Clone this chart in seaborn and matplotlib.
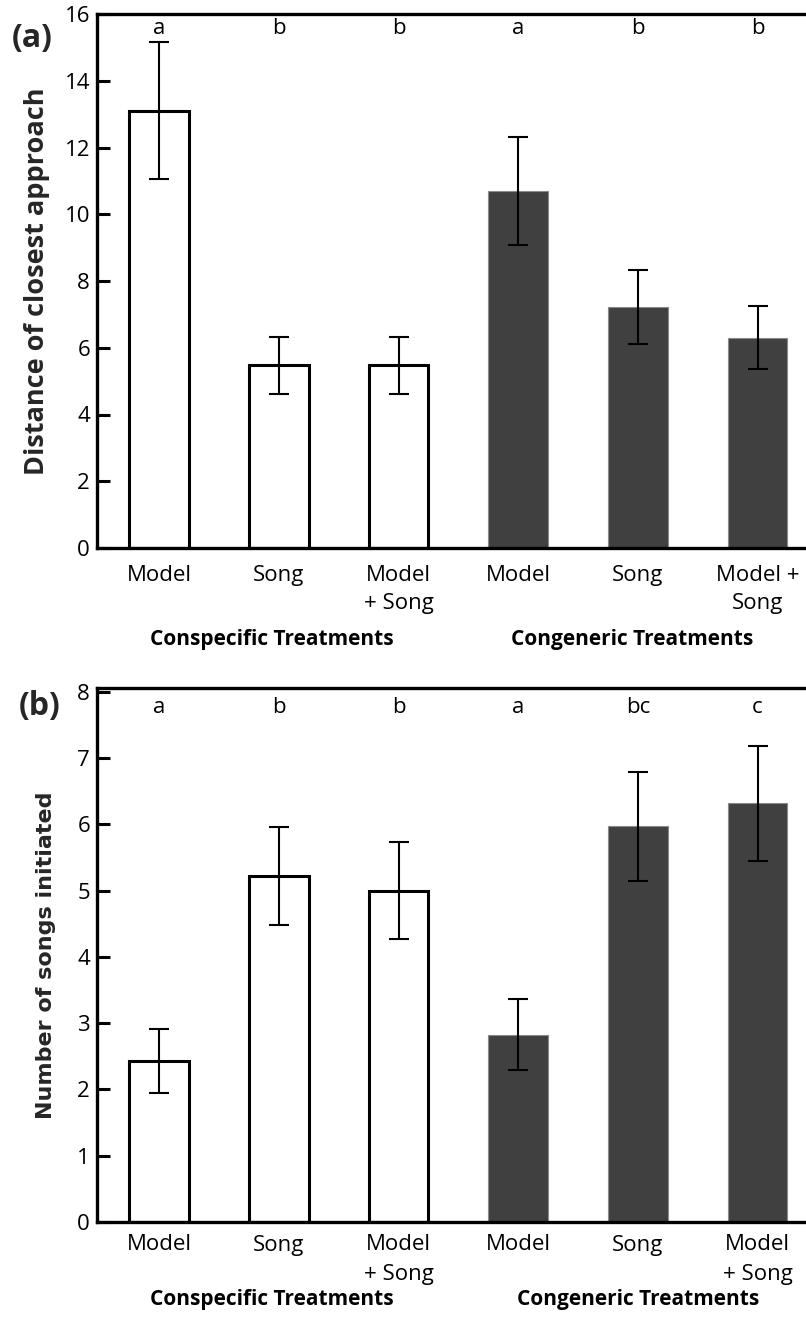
import matplotlib
matplotlib.use("Agg")
import matplotlib.pyplot as plt
import seaborn as sns
import pandas as pd
import numpy as np
from matplotlib.transforms import blended_transform_factory

# ---------------- data ----------------
treatments = ["Conspecific Model", "Conspecific Song", "Conspecific Model + Song",
              "Congeneric Model", "Congeneric Song", "Congeneric Model + Song"]
groups = ["Conspecific", "Conspecific", "Conspecific",
          "Congeneric", "Congeneric", "Congeneric"]

distance_mean = [13.1, 5.47, 5.47, 10.7, 7.22, 6.3]
distance_err = [2.05, 0.86, 0.86, 1.62, 1.1, 0.95]
distance_letters = ["a", "b", "b", "a", "b", "b"]
distance_ticklabels = ["Model", "Song", "Model\n+ Song", "Model", "Song", "Model +\nSong"]

songs_mean = [2.43, 5.22, 5.0, 2.83, 5.97, 6.32]
songs_err = [0.48, 0.74, 0.73, 0.54, 0.82, 0.87]
songs_letters = ["a", "b", "b", "a", "bc", "c"]
songs_ticklabels = ["Model", "Song", "Model\n+ Song", "Model", "Song", "Model\n+ Song"]

group_names = ["Conspecific Treatments", "Congeneric Treatments"]

# ---------------- style ----------------
sns.set_theme(style="white")
plt.rcParams['font.family'] = ['Open Sans', 'DejaVu Sans']

W, H = 806, 1320
fig = plt.figure(figsize=(W / 100, H / 100), dpi=100)
fig.patch.set_facecolor("white")

ax_a = fig.add_axes([97 / W, 1 - 548 / H, 709 / W, 534 / H])
ax_b = fig.add_axes([97 / W, 1 - 1222 / H, 709 / W, 534 / H])


def draw_panel(ax, means, errs, letters, ticklabels, ylim, yticks, ylabel,
               letter_y, group_y, group_x, ylabel_x, ylabel_font, ylabel_size,
               xpad, xlinespacing):
    df = pd.DataFrame({"treatment": treatments, "value": means, "group": groups})
    sns.barplot(data=df, x="treatment", y="value", order=treatments,
                width=0.5, errorbar=None, color="white", ax=ax, zorder=2)
    for patch, g in zip(ax.patches, groups):
        if g == "Conspecific":
            patch.set_facecolor("white")
            patch.set_edgecolor("black")
            patch.set_linewidth(2.2)
        else:
            patch.set_facecolor("#404040")
            patch.set_edgecolor("#8a8a8a")
            patch.set_linewidth(0.8)
    xpos = np.arange(len(treatments))
    ax.errorbar(xpos, means, yerr=errs, fmt="none", ecolor="black",
                elinewidth=1.5, capsize=7, capthick=1.5, zorder=3)

    ax.set_xlim(-0.52, 5.405)
    ax.set_ylim(*ylim)
    ax.set_yticks(yticks)
    ax.set_yticklabels([str(t) for t in yticks])
    ax.set_xticks(xpos)
    ax.set_xticklabels(ticklabels, linespacing=xlinespacing)
    ax.set_xlabel("")
    ax.set_ylabel(ylabel, fontweight="bold", fontsize=ylabel_size,
                  fontfamily=ylabel_font)
    ax.yaxis.set_label_coords(ylabel_x, 0.5)

    for side in ["left", "top", "bottom"]:
        ax.spines[side].set_visible(True)
        ax.spines[side].set_color("black")
        ax.spines[side].set_linewidth(2.4)
        ax.spines[side].set_zorder(4)
    ax.spines["right"].set_visible(False)

    ax.tick_params(axis="y", direction="in", left=True, length=9, width=2.2,
                   labelsize=16, pad=5, colors="black")
    ax.tick_params(axis="x", bottom=False, length=0, labelsize=16, pad=xpad,
                   colors="black")

    trans = blended_transform_factory(ax.transData, ax.transAxes)
    for x, lab in zip(xpos, letters):
        ax.text(x, letter_y, lab, transform=trans, ha="center", va="center",
                fontsize=16, color="black")
    for gx, gname in zip(group_x, group_names):
        ax.text(gx, group_y, gname, transform=trans, ha="center", va="center",
                fontsize=15, fontweight="bold", color="black")


draw_panel(ax_a, distance_mean, distance_err, distance_letters, distance_ticklabels,
           (0, 16), list(range(0, 17, 2)), "Distance of closest approach",
           letter_y=0.972, group_y=-0.172, group_x=[0.94, 3.95],
           ylabel_x=-0.066, ylabel_font=['Open Sans', 'DejaVu Sans'], ylabel_size=19.5,
           xpad=12, xlinespacing=1.45)
draw_panel(ax_b, songs_mean, songs_err, songs_letters, songs_ticklabels,
           (0, 8.06), list(range(0, 9)), "Number of songs initiated",
           letter_y=0.964, group_y=-0.146, group_x=[0.94, 4.0],
           ylabel_x=-0.058, ylabel_font=['DejaVu Sans'], ylabel_size=16,
           xpad=9, xlinespacing=1.55)

fig.text(32 / W, 1 - 39 / H, "(a)", fontsize=23, fontweight="bold",
         ha="center", va="center")
fig.text(40 / W, 1 - 707 / H, "(b)", fontsize=23, fontweight="bold",
         ha="center", va="center")

fig.savefig("out.png", dpi=100)
